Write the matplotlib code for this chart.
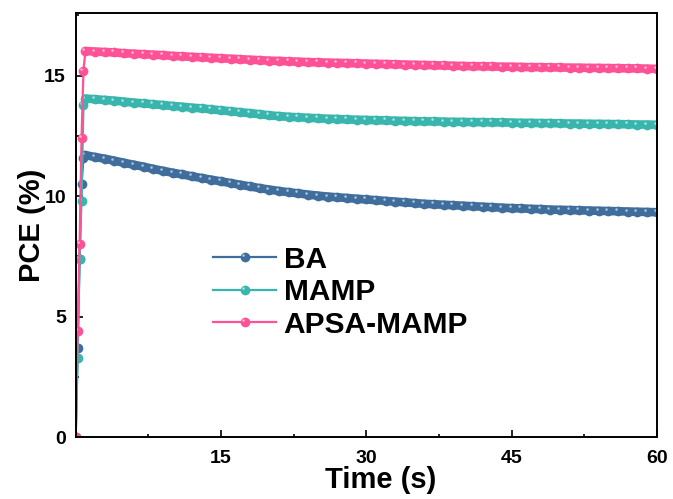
import numpy as np
import matplotlib.pyplot as plt
from matplotlib.path import Path
from matplotlib.legend_handler import HandlerTuple
from matplotlib.ticker import MultipleLocator

plt.rcParams['font.family'] = ['Liberation Sans', 'DejaVu Sans']
plt.rcParams['font.weight'] = 'bold'

# time axis: fast sampling during the light-on rise, then one point per second
rise_t = [0.0, 0.2, 0.4, 0.6, 0.8, 1.0]
time_s = rise_t + list(range(2, 61))

pce_ba = [0.0, 3.7, 7.4, 10.5, 11.6, 11.7,
          11.62, 11.55, 11.47, 11.38, 11.30, 11.22, 11.13, 11.05, 10.97, 10.90,
          10.82, 10.75, 10.68, 10.61, 10.54, 10.47, 10.40, 10.33, 10.27, 10.21,
          10.16, 10.11, 10.06, 10.02, 9.98, 9.95, 9.92, 9.89, 9.86, 9.83,
          9.80, 9.77, 9.74, 9.71, 9.68, 9.66, 9.64, 9.62, 9.60, 9.58,
          9.56, 9.54, 9.52, 9.50, 9.49, 9.47, 9.46, 9.44, 9.43, 9.42,
          9.41, 9.40, 9.39, 9.38, 9.37, 9.36, 9.35, 9.34, 9.33]

pce_mamp = [0.0, 3.3, 7.4, 9.8, 13.8, 14.05,
            14.02, 13.99, 13.96, 13.92, 13.88, 13.85, 13.81, 13.78, 13.74, 13.71,
            13.67, 13.64, 13.60, 13.56, 13.52, 13.48, 13.44, 13.40, 13.35, 13.32,
            13.29, 13.27, 13.25, 13.23, 13.21, 13.20, 13.18, 13.17, 13.16, 13.15,
            13.14, 13.13, 13.12, 13.11, 13.10, 13.10, 13.09, 13.08, 13.08, 13.07,
            13.07, 13.06, 13.06, 13.05, 13.04, 13.04, 13.03, 13.03, 13.02, 13.01,
            13.01, 13.00, 13.00, 12.99, 12.99, 12.98, 12.97, 12.97, 12.96]

pce_apsa = [0.0, 4.4, 8.0, 12.4, 15.2, 16.02,
            16.00, 15.98, 15.96, 15.93, 15.91, 15.89, 15.87, 15.85, 15.82, 15.80,
            15.78, 15.76, 15.74, 15.72, 15.70, 15.68, 15.66, 15.64, 15.62, 15.61,
            15.59, 15.58, 15.56, 15.55, 15.54, 15.53, 15.52, 15.51, 15.50, 15.49,
            15.48, 15.47, 15.46, 15.45, 15.44, 15.43, 15.42, 15.41, 15.40, 15.39,
            15.39, 15.38, 15.37, 15.37, 15.36, 15.35, 15.35, 15.34, 15.34, 15.33,
            15.33, 15.32, 15.32, 15.31, 15.31, 15.30, 15.30, 15.29, 15.28]

labels = ['BA', 'MAMP', 'APSA-MAMP']
colors = ['#3F6E9C', '#38B6AE', '#FF5296']

# small off-centre circle used as the glossy highlight on each marker;
# the lone MOVETO at (0.5, 0.5) keeps matplotlib from rescaling the path
circ = Path.circle((-0.2, 0.2), 0.13)
glint = Path(np.vstack([[0.5, 0.5], circ.vertices]),
             np.concatenate([[Path.MOVETO], circ.codes]))

fig = plt.figure(figsize=(6.73, 4.99), dpi=100)
ax = fig.add_axes([0.1125, 0.1242, 0.8635, 0.8498])

n_rise = len(rise_t) - 1
handles = []
for y, lab, c in zip([pce_ba, pce_mamp, pce_apsa], labels, colors):
    # dense markers merge into a thick band after the peak
    ax.plot(time_s[n_rise:], y[n_rise:], '-', color=c, lw=6.2,
            solid_capstyle='round')
    ln, = ax.plot(time_s, y, '-o', color=c, lw=1.6, ms=7, mec=c, mew=0)
    gl, = ax.plot(time_s, y, ls='none', marker=glint, ms=7,
                  mfc='white', mec='none', alpha=0.6)
    handles.append((ln, gl))

ax.set_xlim(0, 60)
ax.set_ylim(0, 17.6)
ax.xaxis.set_major_locator(MultipleLocator(15))
ax.xaxis.set_minor_locator(MultipleLocator(7.5))
ax.yaxis.set_major_locator(MultipleLocator(5))
ax.yaxis.set_minor_locator(MultipleLocator(2.5))
ax.set_xticks([15, 30, 45, 60])
ax.tick_params(which='both', direction='in', top=False, right=False,
               width=1.2, labelsize=14)
ax.tick_params(which='major', length=5)
ax.tick_params(which='minor', length=2.5)
ax.tick_params(axis='x', which='major', pad=9.5)
ax.tick_params(axis='y', which='major', pad=7)
for s in ax.spines.values():
    s.set_linewidth(1.4)

ax.set_xlabel('Time (s)', fontsize=21, fontweight='bold', labelpad=0)
ax.xaxis.set_label_coords(0.525, -0.068)
ax.set_ylabel('PCE (%)', fontsize=21, fontweight='bold', labelpad=-1.0)

ax.legend(handles, labels,
          handler_map={tuple: HandlerTuple(ndivide=1, pad=0)},
          loc='upper left', bbox_to_anchor=(0.201, 0.5005), frameon=False,
          fontsize=21.5, handlelength=2.1, handletextpad=0.25,
          labelspacing=0.15, borderpad=0.2)

fig.savefig('out.png', dpi=100)
